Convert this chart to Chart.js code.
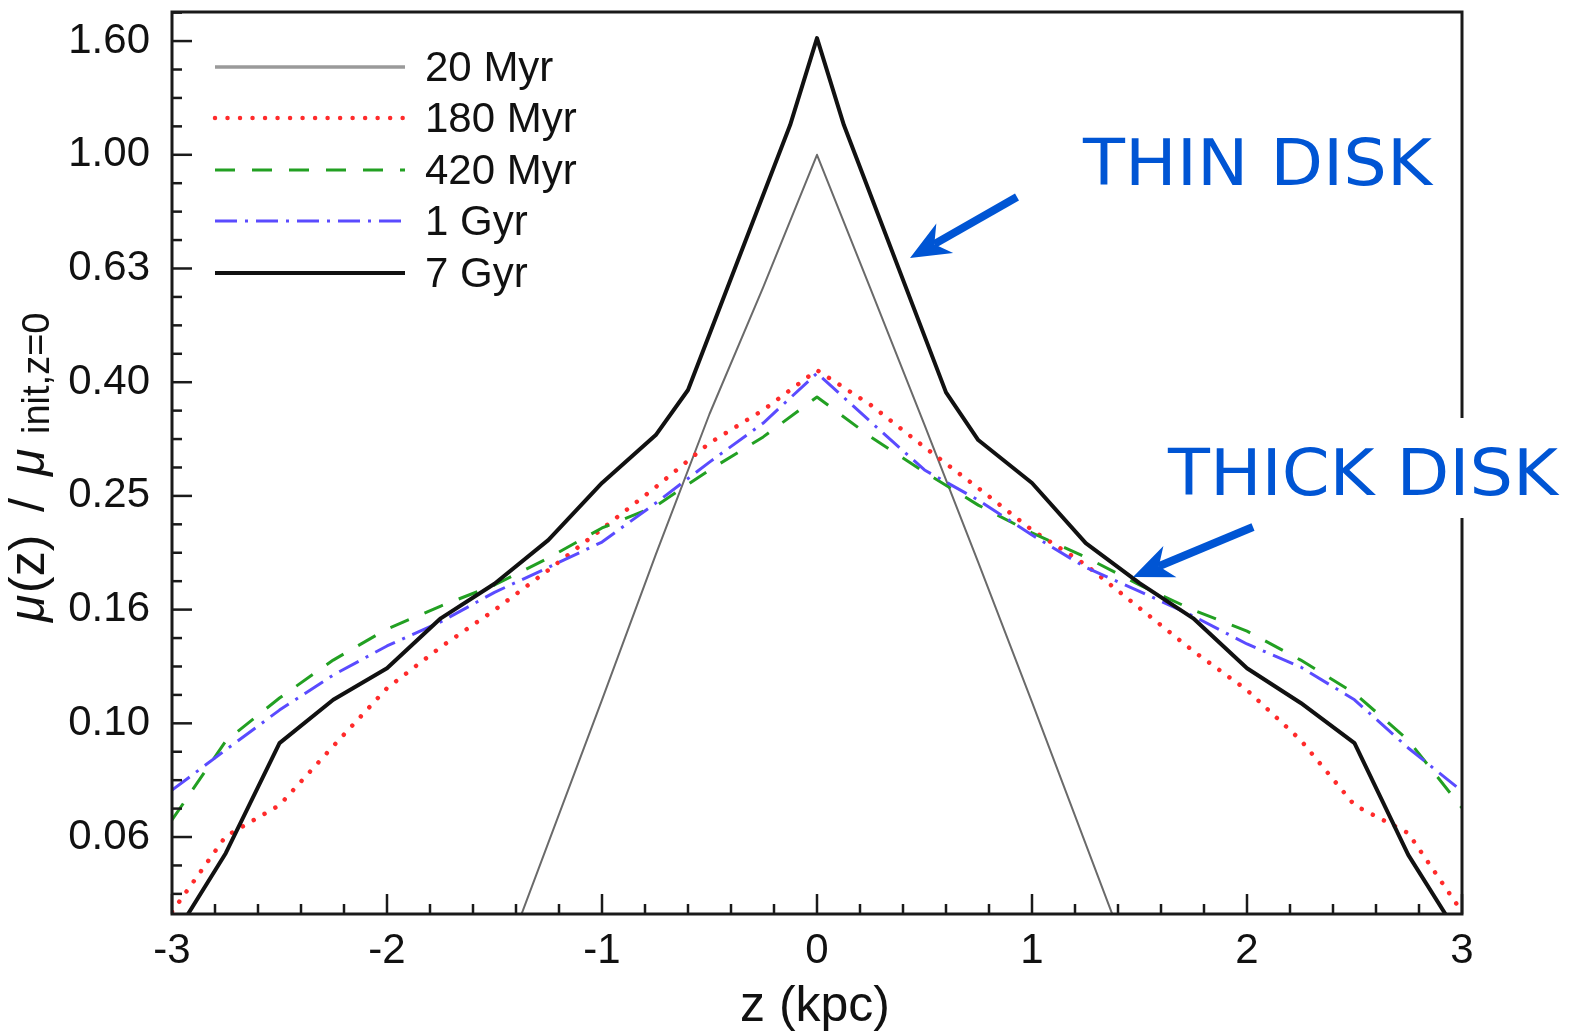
<!DOCTYPE html>
<html>
<head>
<meta charset="utf-8">
<script src="https://cdn.jsdelivr.net/npm/chart.js@4"></script>
<style>
html, body { margin: 0; padding: 0; background: #fff; }
canvas { display: block; }
</style>
</head>
<body>
<canvas id="profileChart" width="1569" height="1035"></canvas>
<script>
// vertical surface density profiles, mu(z) / mu_init(z=0)
const seriesNames = ['20 Myr', '180 Myr', '420 Myr', '1 Gyr', '7 Gyr'];

const z20 = [-1.5, -1.0, -0.75, -0.5, -0.25, 0, 0.25, 0.5, 0.75, 1.0, 1.5];
const mu20 = [0.0345, 0.110, 0.198, 0.350, 0.585, 1.0, 0.58, 0.335, 0.192, 0.109, 0.0345];

const zGrid = [-3, -2.75, -2.5, -2.25, -2, -1.75, -1.5, -1.25, -1, -0.75, -0.5, -0.25, 0,
               0.25, 0.5, 0.75, 1, 1.25, 1.5, 1.75, 2, 2.25, 2.5, 2.75, 3];
const mu180 = [0.0466, 0.0633, 0.0718, 0.0912, 0.1153, 0.1362, 0.1582, 0.186, 0.2197, 0.2603, 0.3112, 0.3557, 0.418,
               0.363, 0.306, 0.2593, 0.2188, 0.19, 0.1595, 0.134, 0.1144, 0.0934, 0.0718, 0.0641, 0.0466];
const mu420 = [0.0676, 0.0931, 0.1108, 0.1292, 0.1465, 0.1608, 0.1751, 0.1953, 0.2206, 0.241, 0.279, 0.319, 0.375,
               0.319, 0.2767, 0.242, 0.2162, 0.196, 0.1751, 0.1582, 0.1453, 0.1292, 0.113, 0.0934, 0.071];
const mu1G = [0.0763, 0.0898, 0.1055, 0.1216, 0.1368, 0.1508, 0.170, 0.188, 0.2084, 0.244, 0.288, 0.3374, 0.413,
              0.339, 0.279, 0.247, 0.2144, 0.188, 0.1707, 0.1544, 0.1379, 0.1256, 0.110, 0.0905, 0.076];

const z7 = [-3, -2.75, -2.5, -2.25, -2, -1.75, -1.5, -1.25, -1, -0.75, -0.6, -0.125, 0,
            0.125, 0.6, 0.75, 1, 1.25, 1.5, 1.75, 2, 2.25, 2.5, 2.75, 3];
const mu7 = [0.0416, 0.0591, 0.0923, 0.110, 0.125, 0.153, 0.176, 0.210, 0.2647, 0.3214, 0.3857, 1.128, 1.604,
             1.128, 0.382, 0.315, 0.2647, 0.2075, 0.1765, 0.153, 0.125, 0.1086, 0.0923, 0.0587, 0.0415];

// axes
const xTickValues = [-3, -2, -1, 0, 1, 2, 3];
const xTickLabels = ['-3', '-2', '-1', '0', '1', '2', '3'];
const yTickValues = [0.0631, 0.1, 0.1585, 0.2512, 0.3981, 0.631, 1.0, 1.585];
const yTickLabels = ['0.06', '0.10', '0.16', '0.25', '0.40', '0.63', '1.00', '1.60'];
const yMin = 0.0462, yMax = 1.783;

const FONT = "'Liberation Sans', Arial, sans-serif";
const BLUE = '#0055d4';

function pts(xs, ys) {
    return xs.map((x, i) => ({ x: x, y: ys[i] }));
}

const styles = [
    { color: '#6a6a6a', width: 2, dash: [], cap: 'butt', legendColor: '#9a9a9a', legendWidth: 3.5 },
    { color: '#ff2b2b', width: 4.5, dash: [0.01, 12.5], cap: 'round' },
    { color: '#22a022', width: 3, dash: [20, 17], cap: 'butt' },
    { color: '#5a4bff', width: 3, dash: [22, 8, 3, 8], cap: 'butt' },
    { color: '#111111', width: 4, dash: [], cap: 'butt' }
];

const seriesData = [pts(z20, mu20), pts(zGrid, mu180), pts(zGrid, mu420), pts(zGrid, mu1G), pts(z7, mu7)];

const datasets = seriesNames.map((name, i) => ({
    label: name,
    data: seriesData[i],
    borderColor: styles[i].color,
    borderWidth: styles[i].width,
    borderDash: styles[i].dash,
    borderCapStyle: styles[i].cap,
    borderJoinStyle: 'round',
    pointRadius: 0,
    tension: 0,
    fill: false,
    order: 4 - i
}));

function drawArrow(ctx, tx, ty, hx, hy) {
    // tail (tx,ty) -> tip (hx,hy)
    const dx = hx - tx, dy = hy - ty;
    const len = Math.hypot(dx, dy);
    const ux = dx / len, uy = dy / len;
    const nx = -uy, ny = ux;
    const headLen = 40, headHalf = 17, notch = 28;
    ctx.strokeStyle = BLUE;
    ctx.fillStyle = BLUE;
    ctx.lineWidth = 8;
    ctx.lineCap = 'butt';
    ctx.beginPath();
    ctx.moveTo(tx, ty);
    ctx.lineTo(hx - ux * notch, hy - uy * notch);
    ctx.stroke();
    ctx.beginPath();
    ctx.moveTo(hx, hy);
    ctx.lineTo(hx - ux * headLen + nx * headHalf, hy - uy * headLen + ny * headHalf);
    ctx.lineTo(hx - ux * notch, hy - uy * notch);
    ctx.lineTo(hx - ux * headLen - nx * headHalf, hy - uy * headLen - ny * headHalf);
    ctx.closePath();
    ctx.fill();
}

function drawLabel(ctx, text, left, baseline, width) {
    ctx.save();
    ctx.font = "64px 'DejaVu Sans', Verdana, sans-serif";
    ctx.fillStyle = BLUE;
    ctx.textAlign = 'left';
    ctx.textBaseline = 'alphabetic';
    const w = ctx.measureText(text).width;
    ctx.translate(left, baseline);
    ctx.scale(width / w, 1);
    ctx.fillText(text, 0, 0);
    ctx.restore();
}

const decorPlugin = {
    id: 'decor',
    afterDatasetsDraw(chart) {
        const { ctx, chartArea: a, scales } = chart;
        const xs = scales.x, ys = scales.y;
        ctx.save();
        ctx.strokeStyle = '#1a1a1a';

        // x ticks, inward
        ctx.lineWidth = 2.5;
        for (let k = 0; k <= 30; k++) {
            const v = -3 + k * 0.2;
            const major = Math.abs(v - Math.round(v)) < 1e-6;
            const px = xs.getPixelForValue(v);
            ctx.beginPath();
            ctx.moveTo(px, a.bottom);
            ctx.lineTo(px, a.bottom - (major ? 20 : 10));
            ctx.stroke();
        }
        // y ticks, inward (minor every 0.05 dex)
        yTickValues.forEach((m, i) => {
            const py = ys.getPixelForValue(m);
            ctx.beginPath();
            ctx.moveTo(a.left, py);
            ctx.lineTo(a.left + 20, py);
            ctx.stroke();
            const steps = i === 0 ? [-3, -2, -1, 1, 2, 3] : [1, 2, 3];
            steps.forEach(j => {
                const v = m * Math.pow(10, 0.05 * j);
                if (v <= yMin || v >= yMax) return;
                const q = ys.getPixelForValue(v);
                ctx.beginPath();
                ctx.moveTo(a.left, q);
                ctx.lineTo(a.left + 10, q);
                ctx.stroke();
            });
        });

        // frame
        ctx.lineWidth = 3;
        ctx.strokeRect(a.left, a.top, a.right - a.left, a.bottom - a.top);
        ctx.restore();
    },
    afterDraw(chart) {
        const { ctx } = chart;
        ctx.save();

        // legend
        const rows = [67, 118, 170, 221, 273];
        seriesNames.forEach((name, i) => {
            const s = styles[i];
            ctx.strokeStyle = s.legendColor || s.color;
            ctx.lineWidth = s.legendWidth || s.width;
            ctx.setLineDash(s.dash);
            ctx.lineCap = s.cap;
            ctx.beginPath();
            ctx.moveTo(215, rows[i]);
            ctx.lineTo(405, rows[i]);
            ctx.stroke();
            ctx.setLineDash([]);
            ctx.fillStyle = '#111';
            ctx.font = '42px ' + FONT;
            ctx.textAlign = 'left';
            ctx.textBaseline = 'middle';
            ctx.fillText(name, 425, rows[i] + 2);
        });

        // x title
        ctx.fillStyle = '#111';
        ctx.font = '50px ' + FONT;
        ctx.textAlign = 'center';
        ctx.textBaseline = 'alphabetic';
        ctx.fillText('z (kpc)', 815, 1021);

        // y title, rotated
        ctx.save();
        ctx.translate(44, 622);
        ctx.rotate(-Math.PI / 2);
        ctx.textAlign = 'left';
        ctx.font = 'italic 50px ' + FONT;
        ctx.fillText('\u03bc', 0, 0);
        ctx.font = '50px ' + FONT;
        ctx.fillText('(z)', 29, 0);
        ctx.fillText('/', 110, 0);
        ctx.font = 'italic 50px ' + FONT;
        ctx.fillText('\u03bc', 146, 0);
        ctx.font = '38px ' + FONT;
        ctx.fillText('init,z=0', 188, 5);
        ctx.restore();

        // annotations
        ctx.fillStyle = '#fff';
        ctx.fillRect(1160, 418, 409, 100);
        drawLabel(ctx, 'THIN DISK', 1083, 185, 349);
        drawLabel(ctx, 'THICK DISK', 1168, 495, 390);
        drawArrow(ctx, 1017, 197, 910, 258);
        drawArrow(ctx, 1253, 527, 1133, 577);

        ctx.restore();
    }
};

const ctx = document.getElementById('profileChart').getContext('2d');
new Chart(ctx, {
    type: 'line',
    data: { datasets: datasets },
    options: {
        responsive: false,
        animation: false,
        devicePixelRatio: 1,
        layout: { padding: { top: 12, right: 107, left: 0, bottom: 0 } },
        plugins: { legend: { display: false }, tooltip: { enabled: false } },
        scales: {
            x: {
                type: 'linear',
                min: -3,
                max: 3,
                grid: { display: false, drawTicks: false },
                border: { display: false },
                afterBuildTicks: s => { s.ticks = xTickValues.map(v => ({ value: v })); },
                afterFit: s => { s.height = 121; s.paddingLeft = 0; s.paddingRight = 0; },
                ticks: {
                    autoSkip: false,
                    maxRotation: 0,
                    padding: 12,
                    color: '#111',
                    font: { family: FONT, size: 42 },
                    callback: (v, i) => xTickLabels[i]
                }
            },
            y: {
                type: 'logarithmic',
                min: yMin,
                max: yMax,
                grid: { display: false, drawTicks: false },
                border: { display: false },
                afterBuildTicks: s => { s.ticks = yTickValues.map(v => ({ value: v })); },
                afterFit: s => { s.width = 172; s.paddingTop = 0; s.paddingBottom = 0; },
                ticks: {
                    autoSkip: false,
                    padding: 22,
                    color: '#111',
                    font: { family: FONT, size: 42 },
                    callback: (v, i) => yTickLabels[i]
                }
            }
        }
    },
    plugins: [decorPlugin]
});
</script>
</body>
</html>
